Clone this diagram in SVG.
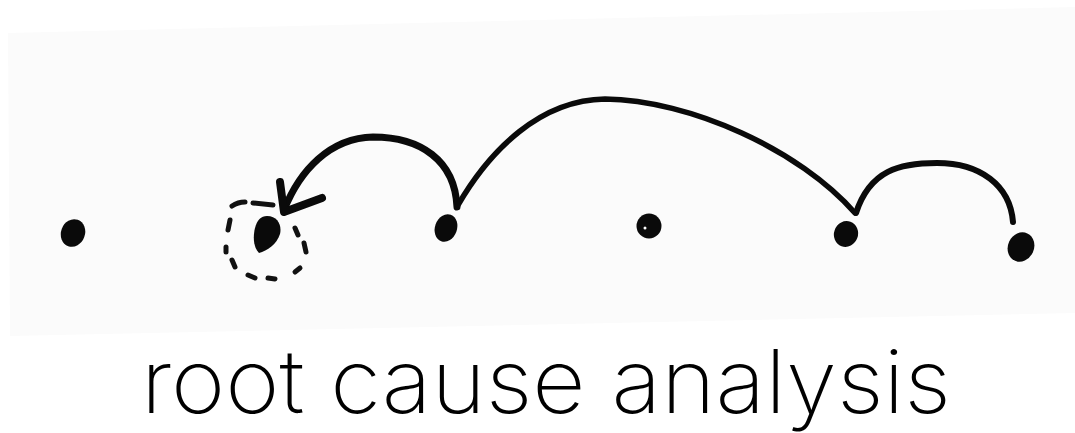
<svg xmlns="http://www.w3.org/2000/svg" width="1075" height="433" viewBox="0 0 1075 433">
<style>
.ink{fill:none;stroke:#0a0a0a;stroke-linecap:round;stroke-linejoin:round}
.dot{fill:#0a0a0a}
.dash{fill:none;stroke:#111;stroke-width:5;stroke-linecap:round}
.label{font-family:Inter,"Noto Sans","Liberation Sans",sans-serif;font-weight:200;font-size:88px;fill:#000}
</style>
<rect width="1075" height="433" fill="#ffffff"/>
<polygon points="8,33 1075,7 1075,313 10,336" fill="#fbfbfb"/>
<g id="connectors">
<path class="ink" stroke-width="7" d="M457,207 C455,160 420,137 373,137 C330,138 300,170 284,210"/>
<path class="ink" stroke-width="8" d="M280,182 L284,212 L322,198"/>
<path class="ink" stroke-width="5.5" d="M458,205 C490,150 540,100 605,99 C690,100 800,150 855,213"/>
<path class="ink" stroke-width="6" d="M856,213 C870,170 900,163 937,163 C980,163 1010,185 1013,222"/>
</g>
<g id="node1"><ellipse class="dot" cx="73" cy="233" rx="12" ry="14" transform="rotate(20 73 233)"/></g>
<g id="node2">
<path class="dot" d="M267,216 C278,216 282,226 280,234 C277,244 267,251 259,253 C253,247 253,236 255,228 C257,220 261,216 267,216 Z"/>
<g id="focus">
<path class="dash" d="M232,206 Q238,202 245,202"/>
<path class="dash" d="M253,203 L273,205"/>
<path class="dash" d="M230,220 L228,230"/>
<path class="dash" d="M226,247 L226,252"/>
<path class="dash" d="M232,260 L235,267"/>
<path class="dash" d="M248,275 L255,278"/>
<path class="dash" d="M268,278 L275,279"/>
<path class="dash" d="M295,272 L300,268"/>
<path class="dash" d="M304,243 L306,252"/>
<path class="dash" d="M295,228 L298,235"/>
</g>
</g>
<g id="node3"><ellipse class="dot" cx="446" cy="228" rx="11" ry="14" transform="rotate(20 446 228)"/></g>
<g id="node4"><ellipse class="dot" cx="649" cy="226" rx="12.5" ry="12.5"/><circle cx="645" cy="228" r="1.5" fill="#fff"/></g>
<g id="node5"><ellipse class="dot" cx="846" cy="234" rx="12" ry="13" transform="rotate(20 846 234)"/></g>
<g id="node6"><ellipse class="dot" cx="1021" cy="247" rx="13" ry="15" transform="rotate(25 1021 247)"/></g>
<text class="label" x="141" y="413" textLength="810" lengthAdjust="spacingAndGlyphs">root cause analysis</text>
</svg>
